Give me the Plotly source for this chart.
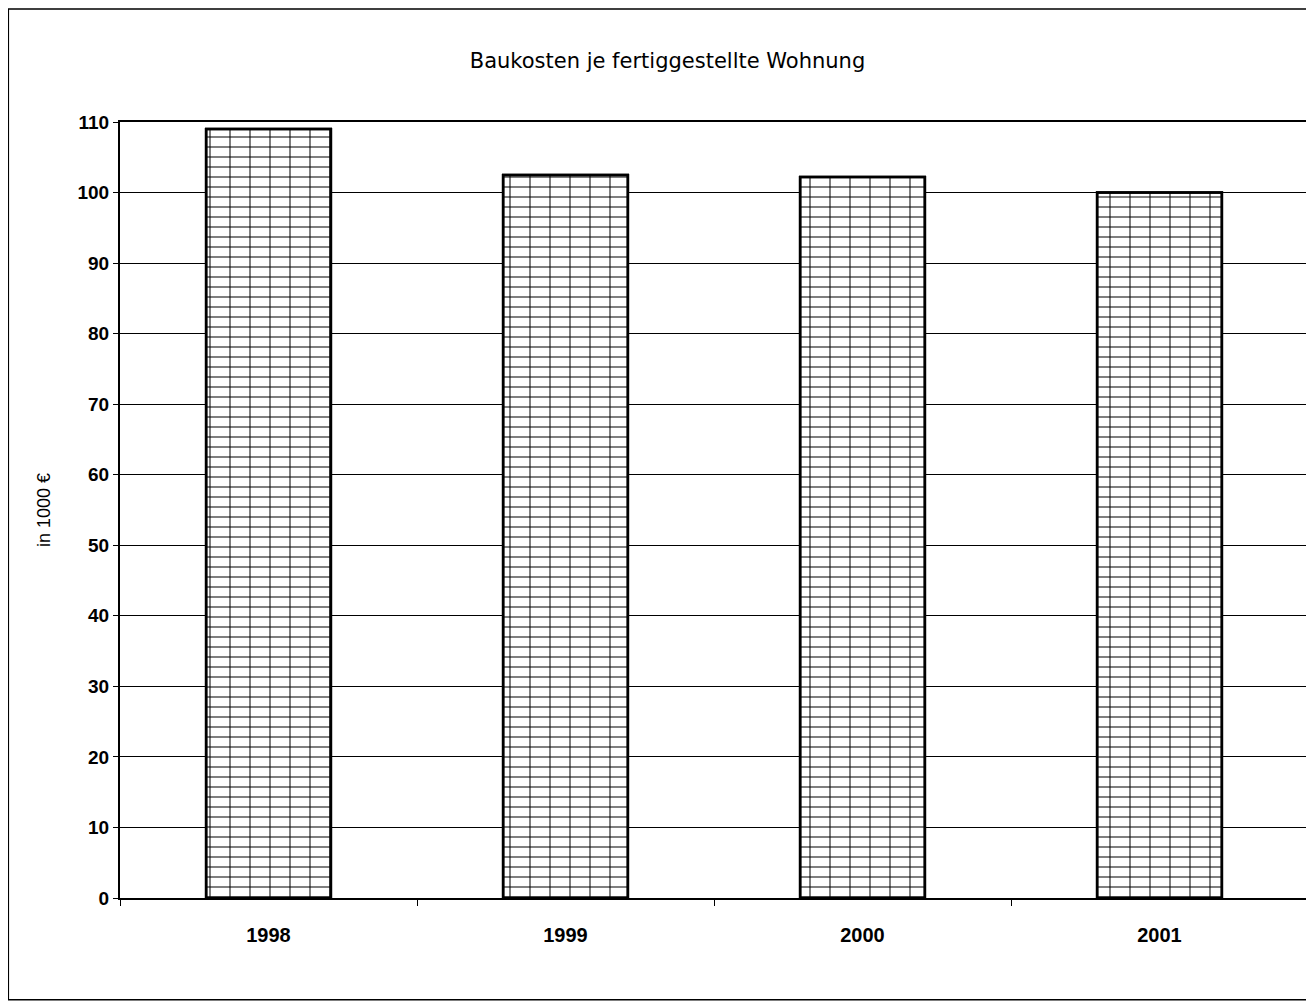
import plotly.graph_objects as go

years = ["1998", "1999", "2000", "2001"]
costs = [109.0, 102.5, 102.2, 100.0]
y_ticks = list(range(0, 111, 10))

title_text = "Baukosten je fertiggestellte Wohnung"
y_title = "in 1000 €"

fig = go.Figure()
# horizontal brick courses
fig.add_trace(go.Bar(
    x=years, y=costs, width=0.42,
    marker=dict(color="white",
                line=dict(color="black", width=2.5),
                pattern=dict(shape="-", size=10, solidity=0.2,
                             fgcolor="black", bgcolor="white")),
    hoverinfo="skip", showlegend=False))
# vertical brick joints
fig.add_trace(go.Bar(
    x=years, y=costs, width=0.42,
    marker=dict(color="rgba(0,0,0,0)",
                line=dict(color="black", width=2.5),
                pattern=dict(shape="|", size=20, solidity=0.1,
                             fgcolor="black", bgcolor="rgba(0,0,0,0)")),
    showlegend=False))

fig.update_layout(
    barmode="overlay",
    width=1306, height=993,
    margin=dict(l=112, r=4, t=114, b=103),
    paper_bgcolor="white", plot_bgcolor="white",
    font=dict(family="Arial, Liberation Sans, sans-serif", color="black"),
    title=dict(text=title_text, x=0.505, xanchor="center", y=0.947, yanchor="middle",
               font=dict(size=21, color="black", family="DejaVu Sans, Arial, sans-serif")),
)
fig.update_xaxes(
    type="category", showline=True, linecolor="black", linewidth=2, mirror=True,
    ticks="outside", tickson="boundaries", ticklen=6, tickcolor="black",
    tickfont=dict(size=20, weight="bold"), showgrid=False, ticklabelstandoff=18,
)
fig.update_yaxes(
    range=[0, 110], tickvals=y_ticks, showline=True, linecolor="black", linewidth=2,
    mirror=True, ticks="outside", ticklen=5, tickcolor="black",
    tickfont=dict(size=19, weight="bold"), showgrid=True, gridcolor="black", gridwidth=1,
    title=dict(text=y_title, font=dict(size=18), standoff=22),
)
fig.add_shape(type="rect", xref="paper", yref="paper",
              x0=-0.094, x1=1.01, y0=-0.131, y1=1.1456,
              line=dict(color="black", width=1.5), fillcolor="rgba(0,0,0,0)", layer="below")

fig.write_html("out.html")
